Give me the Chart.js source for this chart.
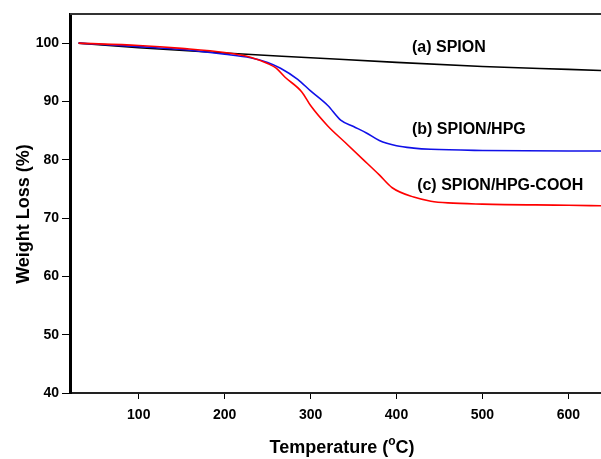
<!DOCTYPE html>
<html>
<head>
<meta charset="utf-8">
<script src="https://cdn.jsdelivr.net/npm/chart.js@4"></script>
<style>
  html, body { margin: 0; padding: 0; background: #fff; }
  #wrap { width: 601px; height: 459px; }
</style>
</head>
<body>
<div id="wrap"><canvas id="tga" width="601" height="459"></canvas></div>
<script>
// --- data ---
const spionTemp = [30, 100, 200, 300, 400, 500, 600, 640];
const spionWeight = [100, 99.2, 98.3, 97.5, 96.7, 96.0, 95.5, 95.3];

const hpgTemp = [30, 100, 150, 200, 230, 250, 265, 285, 300, 320, 335, 350, 365, 380, 400, 420, 440, 500, 600, 640];
const hpgWeight = [100, 99.4, 98.9, 98.1, 97.5, 96.7, 95.7, 93.8, 91.8, 89.3, 86.8, 85.7, 84.6, 83.3, 82.4, 82.0, 81.8, 81.6, 81.5, 81.5];

const coohTemp = [30, 100, 150, 200, 230, 250, 260, 270, 290, 300, 320, 340, 360, 380, 395, 420, 440, 460, 500, 600, 640];
const coohWeight = [100, 99.6, 99.1, 98.4, 97.6, 96.5, 95.7, 94.2, 91.6, 89.3, 85.8, 83.0, 80.2, 77.4, 75.2, 73.6, 72.9, 72.6, 72.4, 72.2, 72.1];

const xTicks = [100, 200, 300, 400, 500, 600];
const yTicks = [40, 50, 60, 70, 80, 90, 100];

// curve labels, placed in data units
const labelText = ['(a) SPION', '(b) SPION/HPG', '(c) SPION/HPG-COOH'];
const labelTemp = [418, 418, 424];
const labelWeight = [99.2, 85.1, 75.5];

const toPoints = (xs, ys) => xs.map((x, i) => ({ x: x, y: ys[i] }));
const FAMILY = '"Liberation Sans", Arial, sans-serif';

// axis titles, top border and curve labels
const extras = {
  id: 'extras',
  afterDraw(chart) {
    const ctx = chart.ctx;
    const area = chart.chartArea;
    const sx = chart.scales.x, sy = chart.scales.y;
    ctx.save();
    // top frame line
    ctx.strokeStyle = '#333';
    ctx.lineWidth = 2;
    ctx.beginPath();
    ctx.moveTo(area.left, area.top);
    ctx.lineTo(area.right, area.top);
    ctx.stroke();

    ctx.fillStyle = '#000';
    ctx.font = 'bold 16px ' + FAMILY;
    ctx.textAlign = 'left';
    ctx.textBaseline = 'middle';
    labelText.forEach((t, i) => {
      ctx.fillText(t, sx.getPixelForValue(labelTemp[i]), sy.getPixelForValue(labelWeight[i]));
    });

    // y title
    ctx.font = 'bold 18px ' + FAMILY;
    ctx.save();
    ctx.translate(24, 214);
    ctx.rotate(-Math.PI / 2);
    ctx.textAlign = 'center';
    ctx.fillText('Weight Loss (%)', 0, 0);
    ctx.restore();

    // x title with superscript o
    const a = 'Temperature (', b = 'o', c = 'C)';
    const f1 = 'bold 18px ' + FAMILY;
    const f2 = 'bold 12px ' + FAMILY;
    ctx.font = f1;
    const wa = ctx.measureText(a).width, wc = ctx.measureText(c).width;
    ctx.font = f2;
    const wb = ctx.measureText(b).width;
    let x0 = 342 - (wa + wb + wc) / 2;
    const yT = 448;
    ctx.textAlign = 'left';
    ctx.font = f1;
    ctx.fillText(a, x0, yT);
    ctx.font = f2;
    ctx.fillText(b, x0 + wa, yT - 6);
    ctx.font = f1;
    ctx.fillText(c, x0 + wa + wb, yT);
    ctx.restore();
  }
};

new Chart(document.getElementById('tga'), {
  type: 'line',
  data: {
    datasets: [
      { label: '(a) SPION', data: toPoints(spionTemp, spionWeight), borderColor: '#000000', order: 3 },
      { label: '(b) SPION/HPG', data: toPoints(hpgTemp, hpgWeight), borderColor: '#1010e8', order: 2 },
      { label: '(c) SPION/HPG-COOH', data: toPoints(coohTemp, coohWeight), borderColor: '#ff0000', order: 1 }
    ]
  },
  options: {
    responsive: false,
    animation: false,
    devicePixelRatio: 1,
    layout: { padding: { top: 14, right: 0, left: 0, bottom: 0 } },
    elements: {
      point: { radius: 0 },
      line: { borderWidth: 1.6, cubicInterpolationMode: 'monotone', fill: false }
    },
    plugins: { legend: { display: false }, tooltip: { enabled: false } },
    scales: {
      x: {
        type: 'linear',
        min: 20,
        max: 638,
        afterBuildTicks: s => { s.ticks = xTicks.map(v => ({ value: v })); },
        afterFit: s => { s.height = 66; },
        grid: { drawOnChartArea: false, drawTicks: true, tickLength: 6, color: '#000' },
        border: { display: true, color: '#222', width: 2 },
        ticks: { color: '#000', padding: 8, maxRotation: 0, font: { family: FAMILY, size: 14, weight: 'bold' } }
      },
      y: {
        min: 40,
        max: 105,
        afterBuildTicks: s => { s.ticks = yTicks.map(v => ({ value: v })); },
        afterFit: s => { s.width = 70; },
        grid: { drawOnChartArea: false, drawTicks: true, tickLength: 8, color: '#000' },
        border: { display: true, color: '#000', width: 3 },
        ticks: { color: '#000', padding: 3, font: { family: FAMILY, size: 14, weight: 'bold' } }
      }
    }
  },
  plugins: [extras]
});
</script>
</body>
</html>
